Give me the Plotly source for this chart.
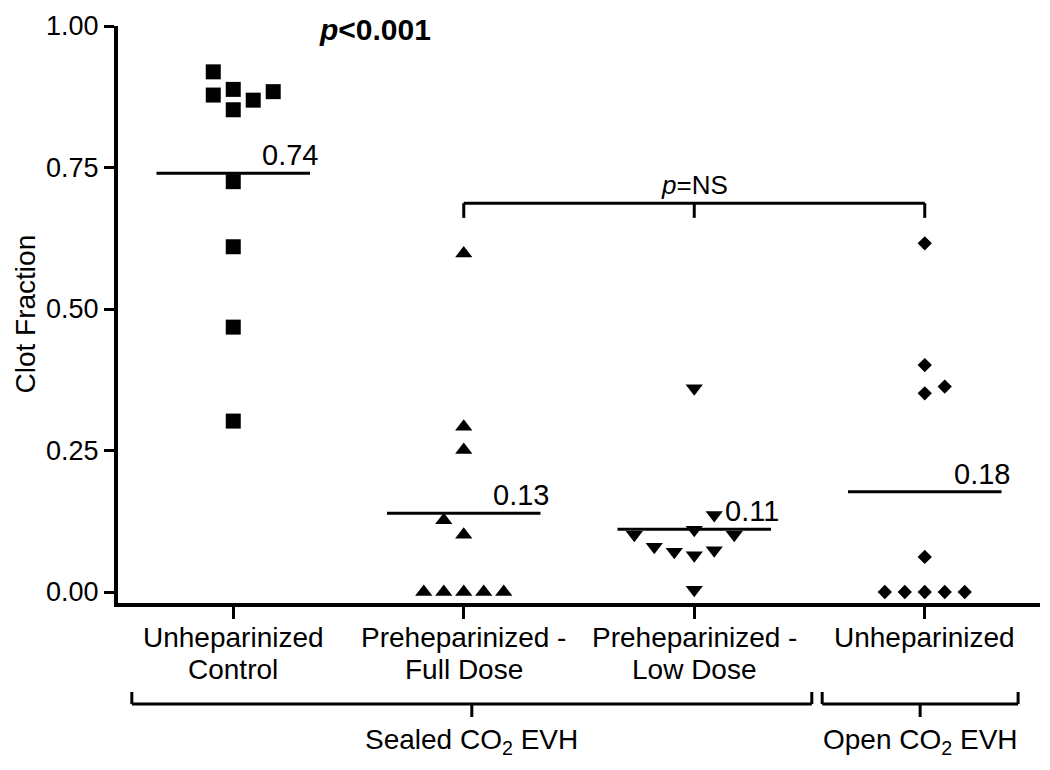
import plotly.graph_objects as go

# ---------------- data ----------------
cat_line1 = ["Unheparinized", "Preheparinized -", "Preheparinized -", "Unheparinized"]
cat_line2 = ["Control", "Full Dose", "Low Dose", ""]

control_vals = [0.919, 0.878, 0.888, 0.852, 0.869, 0.884, 0.725, 0.610, 0.468, 0.302]
control_slot = [-1, -1, 0, 0, 1, 2, 0, 0, 0, 0]

full_vals = [0.598, 0.292, 0.251, 0.127, 0.101, 0.0, 0.0, 0.0, 0.0, 0.0]
full_slot = [0, 0, 0, -1, 0, -2, -1, 0, 1, 2]

low_vals = [0.360, 0.136, 0.110, 0.101, 0.101, 0.080, 0.071, 0.065, 0.074, 0.004]
low_slot = [0, 1, 0, -3, 2, -2, -1, 0, 1, 0]

open_vals = [0.616, 0.401, 0.351, 0.363, 0.062, 0.0, 0.0, 0.0, 0.0, 0.0]
open_slot = [0, 0, 0, 1, 0, -2, -1, 0, 1, 2]

means = [0.740, 0.139, 0.111, 0.177]
mean_labels = ["0.74", "0.13", "0.11", "0.18"]

y_ticks = [0.0, 0.25, 0.50, 0.75, 1.00]
y_title = "Clot Fraction"

# ---------------- style ----------------
FONT = "Liberation Sans, Arial, Helvetica, sans-serif"
SLOT = 0.0867        # jitter step (category units)
HALF = 0.333         # half width of mean line
XR = [-0.5, 3.5]
YR = [-0.0194, 1.0]
PAGE_OFF = 8         # browser body margin
PLOT_LEFT, PLOT_RIGHT = 118, 1040
PLOT_TOP, PLOT_BOT = 26, 603

groups = [
    (control_vals, control_slot, "square", 15),
    (full_vals, full_slot, "triangle-up", 15),
    (low_vals, low_slot, "triangle-down", 15),
    (open_vals, open_slot, "diamond", 11),
]

fig = go.Figure()

for i, (vals, slots, sym, sz) in enumerate(groups):
    fig.add_trace(go.Scatter(
        x=[i + s * SLOT for s in slots], y=vals, mode="markers",
        marker=dict(symbol=sym, size=sz, color="black", line=dict(width=0)),
        cliponaxis=False, showlegend=False, hoverinfo="y"))
    fig.add_trace(go.Scatter(
        x=[i - HALF, i + HALF], y=[means[i], means[i]], mode="lines",
        line=dict(color="black", width=3), showlegend=False, hoverinfo="skip"))
    fig.add_annotation(x=i + HALF, y=means[i], text=mean_labels[i],
                       xanchor="right", yanchor="bottom", xshift=10, yshift=0,
                       showarrow=False, font=dict(family=FONT, size=29, color="black"))

# p=NS bracket between groups 1..3
br_y, br_tick = 0.687, 0.661
fig.add_shape(type="line", x0=1, x1=3, y0=br_y, y1=br_y, xref="x", yref="y",
              line=dict(color="black", width=3))
for xv in [1, 2, 3]:
    fig.add_shape(type="line", x0=xv, x1=xv, y0=br_y, y1=br_tick, xref="x", yref="y",
                  line=dict(color="black", width=3))
fig.add_annotation(x=2, y=br_y, text="<i>p</i>=NS", xanchor="center", yanchor="bottom",
                   yshift=1, showarrow=False, font=dict(family=FONT, size=26, color="black"))

fig.add_annotation(x=0.615, y=0.993, text="<b><i>p</i>&lt;0.001</b>", xanchor="center",
                   yanchor="middle", showarrow=False,
                   font=dict(family=FONT, size=30, color="black"))

# helpers: data x -> paper x ; page pixel -> paper
def px(xv):
    return (xv - XR[0]) / (XR[1] - XR[0])

def pxp(pix):
    return (pix - PLOT_LEFT) / (PLOT_RIGHT - PLOT_LEFT)

def py(pix):
    return (PLOT_BOT - pix) / (PLOT_BOT - PLOT_TOP)

# y-axis title
fig.add_annotation(xref="paper", yref="paper", x=pxp(8), y=py(314), text=y_title,
                   textangle=-90, xanchor="left", yanchor="middle", showarrow=False,
                   borderpad=0, font=dict(family=FONT, size=28, color="black"))

# category labels (two lines each)
for i in range(4):
    fig.add_annotation(xref="x", yref="paper", x=i, y=py(637), text=cat_line1[i],
                       xanchor="center", yanchor="middle", showarrow=False,
                       font=dict(family=FONT, size=28, color="black"))
    if cat_line2[i]:
        fig.add_annotation(xref="x", yref="paper", x=i, y=py(669), text=cat_line2[i],
                           xanchor="center", yanchor="middle", showarrow=False,
                           font=dict(family=FONT, size=28, color="black"))

# bottom group brackets
bk_top, bk_line, bk_tick, bk_text = py(692), py(704), py(717), py(741)
for (a, b, label) in [(-0.44, 2.51, "Sealed CO<sub>2</sub> EVH"),
                      (2.555, 3.405, "Open CO<sub>2</sub> EVH")]:
    xa, xb = px(a), px(b)
    xm = (xa + xb) / 2
    fig.add_shape(type="line", xref="paper", yref="paper", x0=xa, x1=xb,
                  y0=bk_line, y1=bk_line, line=dict(color="black", width=3))
    for xx in (xa, xb):
        fig.add_shape(type="line", xref="paper", yref="paper", x0=xx, x1=xx,
                      y0=bk_line, y1=bk_top, line=dict(color="black", width=3))
    fig.add_shape(type="line", xref="paper", yref="paper", x0=xm, x1=xm,
                  y0=bk_line, y1=bk_tick, line=dict(color="black", width=3))
    fig.add_annotation(xref="paper", yref="paper", x=xm, y=bk_text, text=label,
                       xanchor="center", yanchor="middle", showarrow=False,
                       font=dict(family=FONT, size=28, color="black"))

fig.update_layout(
    width=1050 - PAGE_OFF, height=770 - PAGE_OFF,
    margin=dict(l=PLOT_LEFT - PAGE_OFF, r=1050 - PLOT_RIGHT, t=PLOT_TOP - PAGE_OFF,
                b=770 - PLOT_BOT, autoexpand=False),
    paper_bgcolor="white", plot_bgcolor="white",
    font=dict(family=FONT, size=27, color="black"),
    xaxis=dict(range=XR, tickvals=[0, 1, 2, 3], ticktext=["", "", "", ""],
               showline=True, linecolor="black", linewidth=4,
               ticks="outside", ticklen=12, tickwidth=3, tickcolor="black",
               showgrid=False, zeroline=False),
    yaxis=dict(range=YR, tickvals=y_ticks, tickformat=".2f",
               showline=True, linecolor="black", linewidth=4,
               ticks="outside", ticklen=10, tickwidth=3, tickcolor="black",
               showgrid=False, zeroline=False,
               tickfont=dict(family=FONT, size=27, color="black")),
)

fig.write_html("out.html")
